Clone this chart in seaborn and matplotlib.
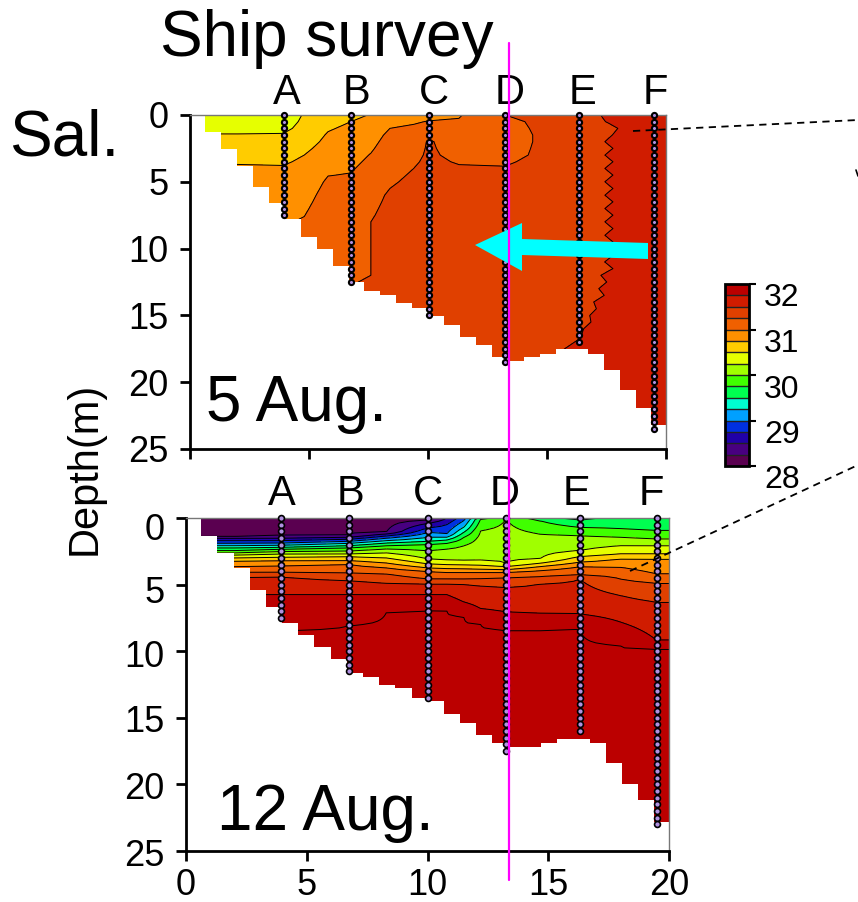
# salinity sections from the ship survey

import numpy as np
import pandas as pd
import matplotlib
matplotlib.use("Agg")
import matplotlib.pyplot as plt
from matplotlib.cm import ScalarMappable
from matplotlib.colors import ListedColormap, BoundaryNorm
from matplotlib.lines import Line2D
from matplotlib.patches import Polygon
from matplotlib.transforms import IdentityTransform, ScaledTranslation
import seaborn as sns

# ------------------------------
# 1. Data
# ------------------------------
station_names = ["A", "B", "C", "D", "E", "F"]
station_km_aug5 = [3.93, 6.76, 10.04, 13.25, 16.33, 19.48]
station_km_aug12 = [3.92, 6.75, 10.03, 13.25, 16.3, 19.5]
station_bottom_aug5 = [7.5, 12.5, 15.0, 18.5, 17.0, 23.5]
station_bottom_aug12 = [7.5, 11.5, 13.5, 17.5, 16.0, 23.0]
sample_depth = [0, 0.5, 1, 1.5, 2, 2.5, 3, 3.5, 4, 4.5, 5, 5.5, 6, 6.5, 7, 7.5, 8, 8.5, 9, 9.5,
                10, 10.5, 11, 11.5, 12, 12.5, 13, 13.5, 14, 14.5, 15, 15.5, 16, 16.5, 17, 17.5,
                18, 18.5, 19, 19.5, 20, 20.5, 21, 21.5, 22, 22.5, 23, 23.5]

salinity_levels = [28, 28.25, 28.5, 28.75, 29, 29.25, 29.5, 29.75, 30, 30.25, 30.5, 30.75,
                   31, 31.25, 31.5, 31.75, 32]
band_colors = ["#5a0050", "#480080", "#2000a8", "#0030e0", "#00a0ff", "#00ffd0", "#00ff50", "#40ff00",
               "#a0ff00", "#e6ff00", "#ffcc00", "#ff9000", "#f06000", "#e04000", "#d01c00", "#bb0000"]

# seabed steps, one depth per cell
seabed_edges = [0, 0.63, 1.3, 1.97, 2.64, 3.31, 3.98, 4.65, 5.32, 5.99, 6.66, 7.33, 8.0, 8.67, 9.34, 10.01,
                10.68, 11.35, 12.02, 12.69, 13.36, 14.03, 14.7, 15.37, 16.04, 16.71, 17.38, 18.05, 18.72,
                19.39, 20.0]
seabed_aug5 = [0, 1.25, 2.54, 3.79, 5.36, 6.56, 7.8, 9.1, 10.0, 11.27, 12.5, 13.14, 13.44, 14.04, 14.44,
               15.04, 15.69, 16.58, 17.18, 18.15, 18.45, 18.15, 17.86, 17.48, 17.48, 17.86, 19.05, 20.6,
               21.9, 23.17]
seabed_aug12 = [0, 1.35, 2.6, 3.78, 5.38, 6.65, 7.85, 8.8, 9.7, 10.6, 11.6, 11.9, 12.5, 12.8, 13.48,
                13.74, 14.7, 15.4, 16.3, 16.9, 17.2, 17.2, 16.9, 16.6, 16.6, 16.9, 18.4, 20.0, 21.2, 22.8]

# 5 Aug: salinity profiles, one row per column position
aug5_km = [0.6, 2, 3.93, 4.8, 5.8, 6.76, 7.6, 8.4, 9.4, 10.04, 11.3, 13.25, 14.4, 16.33, 19.48, 20]
aug5_depth = [0, 0.5, 1, 1.5, 2, 3, 4, 5, 6, 7, 8, 10, 12, 14, 16, 18, 20, 25]
aug5_profiles = [
    [30.30, 30.33, 30.40, 30.52, 30.58, 30.68, 30.78, 30.85, 30.90, 30.95, 31.00, 31.10, 31.15, 31.20, 31.20, 31.20, 31.20, 31.20],
    [30.30, 30.33, 30.40, 30.52, 30.58, 30.68, 30.78, 30.85, 30.90, 30.95, 31.00, 31.10, 31.15, 31.20, 31.20, 31.20, 31.20, 31.20],
    [30.35, 30.38, 30.44, 30.52, 30.58, 30.68, 30.77, 30.84, 30.90, 30.94, 30.98, 31.08, 31.12, 31.18, 31.20, 31.20, 31.20, 31.20],
    [30.52, 30.55, 30.58, 30.62, 30.66, 30.75, 30.82, 30.87, 30.92, 30.97, 31.02, 31.10, 31.15, 31.20, 31.20, 31.20, 31.20, 31.20],
    [30.60, 30.66, 30.73, 30.77, 30.80, 30.87, 30.96, 31.03, 31.08, 31.12, 31.15, 31.20, 31.22, 31.24, 31.24, 31.24, 31.24, 31.24],
    [30.70, 30.75, 30.79, 30.82, 30.85, 30.92, 30.98, 31.04, 31.08, 31.11, 31.14, 31.19, 31.23, 31.28, 31.30, 31.30, 31.30, 31.30],
    [30.76, 30.82, 30.86, 30.90, 30.94, 31.01, 31.07, 31.12, 31.17, 31.21, 31.25, 31.25, 31.25, 31.30, 31.32, 31.32, 31.32, 31.32],
    [30.80, 30.90, 31.00, 31.05, 31.08, 31.13, 31.17, 31.22, 31.28, 31.31, 31.33, 31.35, 31.37, 31.38, 31.40, 31.40, 31.40, 31.40],
    [30.90, 30.98, 31.03, 31.08, 31.15, 31.20, 31.25, 31.30, 31.33, 31.35, 31.36, 31.38, 31.39, 31.40, 31.40, 31.40, 31.40, 31.40],
    [30.93, 31.01, 31.10, 31.20, 31.27, 31.28, 31.30, 31.32, 31.34, 31.35, 31.36, 31.38, 31.39, 31.40, 31.40, 31.40, 31.40, 31.40],
    [30.98, 31.02, 31.08, 31.12, 31.15, 31.20, 31.27, 31.32, 31.34, 31.35, 31.36, 31.38, 31.39, 31.40, 31.41, 31.42, 31.42, 31.42],
    [31.25, 31.20, 31.18, 31.18, 31.18, 31.20, 31.26, 31.32, 31.34, 31.36, 31.37, 31.38, 31.39, 31.40, 31.42, 31.44, 31.44, 31.44],
    [31.30, 31.27, 31.26, 31.25, 31.25, 31.26, 31.30, 31.35, 31.36, 31.37, 31.38, 31.39, 31.40, 31.41, 31.43, 31.47, 31.47, 31.47],
    [31.42, 31.42, 31.42, 31.42, 31.42, 31.42, 31.42, 31.42, 31.42, 31.42, 31.42, 31.42, 31.43, 31.45, 31.48, 31.53, 31.53, 31.53],
    [31.62, 31.62, 31.62, 31.62, 31.62, 31.62, 31.62, 31.62, 31.62, 31.62, 31.62, 31.62, 31.62, 31.62, 31.62, 31.62, 31.62, 31.62],
    [31.62, 31.62, 31.62, 31.62, 31.62, 31.62, 31.62, 31.62, 31.62, 31.62, 31.62, 31.62, 31.62, 31.62, 31.62, 31.62, 31.62, 31.62],
]
# the wavy 31.5 line between E and F, one value every 0.5 m
wavy_km = 17.6
wavy_profile = [31.53, 31.51, 31.47, 31.49, 31.512, 31.488, 31.512, 31.488, 31.512, 31.488, 31.512, 31.488,
                31.512, 31.488, 31.512, 31.488, 31.512, 31.488, 31.512, 31.488, 31.512, 31.488, 31.512, 31.488,
                31.525, 31.505, 31.53, 31.51, 31.55, 31.53, 31.56, 31.54, 31.60, 31.58, 31.60, 31.60,
                31.60, 31.60, 31.60, 31.60, 31.60, 31.60, 31.60, 31.60, 31.60, 31.60, 31.60, 31.60,
                31.60, 31.60, 31.60]

# 12 Aug: depth (m) of each isohaline at each column, nan where the level is not in the column
aug12_km = [0.6, 2, 3.92, 6.75, 8.3, 10.03, 10.8, 11.5, 12.2, 13.25, 14.65, 16.3, 18, 19.5, 20]
aug12_surface = [28.1, 28.1, 28.1, 28.1, 28.1, 28.15, 28.5, 28.9, 29.6, 29.95, 29.6, 29.4, 29.6, 29.55, 29.55]
nan = float("nan")
iso_levels = [28.25, 28.5, 28.75, 29, 29.25, 29.5, 29.75, 30, 30.25, 30.5, 30.75, 31, 31.25, 31.5, 31.75, 32]
aug12_iso = [
    [1.40, 1.52, 1.70, 1.90, 2.08, 2.25, 2.45, 2.62, 2.78, 3.00, 3.25, 3.65, 4.08, 4.45, 5.75, 8.58],
    [1.40, 1.52, 1.70, 1.90, 2.08, 2.25, 2.45, 2.62, 2.78, 3.00, 3.25, 3.65, 4.08, 4.45, 5.75, 8.58],
    [1.35, 1.52, 1.70, 1.88, 2.05, 2.20, 2.35, 2.52, 2.70, 2.95, 3.20, 3.60, 4.08, 4.40, 5.75, 8.45],
    [1.28, 1.45, 1.60, 1.75, 1.90, 2.08, 2.25, 2.48, 2.70, 2.90, 3.20, 3.50, 4.12, 4.70, 5.75, 8.08],
    [1.05, 1.20, 1.35, 1.52, 1.70, 1.88, 2.08, 2.32, 2.62, 3.00, 3.38, 3.75, 4.20, 4.90, 5.75, 7.08],
    [0.15, 0.40, 0.75, 1.08, 1.45, 1.75, 2.00, 2.45, 3.08, 3.45, 3.75, 4.02, 4.58, 4.95, 5.75, 6.90],
    [nan, 0.02, 0.50, 1.20, 1.45, 1.65, 1.90, 2.32, 3.15, 3.50, 3.80, 4.08, 4.58, 4.95, 5.75, 6.95],
    [nan, nan, nan, 0.20, 0.70, 1.08, 1.45, 2.08, 3.20, 3.52, 3.82, 4.08, 4.58, 5.00, 6.30, 7.40],
    [nan, nan, nan, nan, nan, nan, 0.08, 0.95, 3.20, 3.55, 3.85, 4.08, 4.55, 5.10, 6.80, 8.00],
    [nan, nan, nan, nan, nan, nan, nan, 0.05, 3.40, 3.65, 3.88, 4.08, 4.50, 5.20, 7.05, 8.40],
    [nan, nan, nan, nan, nan, nan, 0.20, 1.20, 3.08, 3.40, 3.65, 3.95, 4.40, 4.95, 7.15, 8.40],
    [nan, nan, nan, nan, nan, 0.15, 0.70, 1.32, 2.45, 2.90, 3.32, 3.65, 4.25, 4.58, 7.20, 8.32],
    [nan, nan, nan, nan, nan, nan, 0.82, 1.45, 2.08, 2.70, 3.08, 3.70, 4.58, 5.82, 7.82, 9.58],
    [nan, nan, nan, nan, nan, nan, 0.95, 1.58, 2.08, 2.70, 3.08, 4.20, 4.90, 6.32, 9.20, 9.82],
    [nan, nan, nan, nan, nan, nan, 0.95, 1.58, 2.08, 2.70, 3.08, 4.20, 4.90, 6.32, 9.20, 9.82],
]

# ------------------------------
# 2. Build the fields
# ------------------------------
depth_fine = np.linspace(0, 25, 51)
aug5_km_all = aug5_km[:14] + [wavy_km] + aug5_km[14:]
aug5_columns = [np.interp(depth_fine, aug5_depth, p) for p in aug5_profiles]
aug5_columns.insert(14, np.array(wavy_profile))
aug5_field = np.array(aug5_columns).T

depth_finer = np.linspace(0, 25, 201)
aug12_columns = []
for surf, iso in zip(aug12_surface, aug12_iso):
    d = [0.0] + [v for v in iso if v == v] + [25.0]
    s = [surf] + [lev for lev, v in zip(iso_levels, iso) if v == v] + [32.3]
    aug12_columns.append(np.interp(depth_finer, d, s))
aug12_field = np.array(aug12_columns).T

cmap = ListedColormap(band_colors)
norm = BoundaryNorm(salinity_levels, cmap.N)

# ------------------------------
# 3. Figure
# ------------------------------
sns.set_style("ticks")
plt.rcParams["font.family"] = ["Liberation Sans", "DejaVu Sans"]
plt.rcParams["text.color"] = "black"
plt.rcParams["xtick.labelcolor"] = "black"
plt.rcParams["ytick.labelcolor"] = "black"

W, H = 858, 902
fig = plt.figure(figsize=(W / 100, H / 100), dpi=100)


def px_axes(left, top, right, bottom):
    return fig.add_axes([left / W, 1 - bottom / H, (right - left) / W, (bottom - top) / H])


def shift_labels(labels, offsets):
    # the original labels sit a little under their ticks
    for lab, dy in zip(labels, offsets):
        lab.set_transform(lab.get_transform() + ScaledTranslation(0, -dy * 0.72 / 72, fig.dpi_scale_trans))


def section(ax, km, depth, field, seabed, stations, bottoms, dot_size, dot_lw, show_x):
    ax.contourf(km, depth, field, levels=salinity_levels, cmap=cmap, norm=norm, extend="max", zorder=1)
    ax.contour(km, depth, field, levels=salinity_levels[1:], colors="black", linewidths=0.7, zorder=1.5)
    ax.fill_between(seabed_edges, list(seabed) + [seabed[-1]], 25, step="post", color="white", lw=0, zorder=2)

    rows = []
    for name, x, b in zip(station_names, stations, bottoms):
        for d in sample_depth:
            if d <= b:
                rows.append({"station": name, "km": x, "depth": d})
    samples = pd.DataFrame(rows)
    sns.scatterplot(data=samples, x="km", y="depth", ax=ax, s=dot_size, color="#b090e0", edgecolor="black",
                    linewidth=dot_lw, zorder=3, clip_on=False, legend=False)

    ax.set_xlim(0, 20)
    ax.set_ylim(25, 0)
    ax.set_xticks([0, 5, 10, 15, 20])
    ax.set_yticks([0, 5, 10, 15, 20, 25])
    ax.set_xlabel("")
    ax.set_ylabel("")
    ax.tick_params(axis="both", length=7.5, width=2, labelsize=26, color="black")
    ax.tick_params(axis="y", pad=8)
    ax.tick_params(axis="x", pad=4.5)
    if not show_x:
        ax.tick_params(axis="x", labelbottom=False)
    for side in ["left", "bottom"]:
        ax.spines[side].set_linewidth(2)
        ax.spines[side].set_color("black")
    for side in ["top", "right"]:
        ax.spines[side].set_visible(True)
        ax.spines[side].set_linewidth(1)
        ax.spines[side].set_color("#777777")


ax_top = px_axes(190, 115, 666, 449)
section(ax_top, aug5_km_all, depth_fine, aug5_field, seabed_aug5, station_km_aug5, station_bottom_aug5, 14, 1.5, False)
ax_bot = px_axes(186, 518, 669, 851)
section(ax_bot, aug12_km, depth_finer, aug12_field, seabed_aug12, station_km_aug12, station_bottom_aug12, 18, 1.2, True)
shift_labels(ax_bot.get_yticklabels(), [9, 5, 2, 1, 1, 2])


def label(x, y, text, size, **kw):
    fig.text(x / W, 1 - y / H, text, fontsize=size, ha="center", va="center", **kw)


label(327, 39, "Ship survey", 46)
label(64, 139, "Sal.", 46)
label(297, 404, "5 Aug.", 46)
label(325, 813, "12 Aug.", 46)
label(85, 468, "Depth(m)", 30, rotation=90)

for name, x in zip(station_names, [287, 356, 434, 510, 583, 655]):
    label(x, 93, name, 30)
for name, x in zip(station_names, [282, 350, 428, 505, 577, 651]):
    label(x, 494, name, 30)

# colour bar
cax = px_axes(725, 284, 749, 466)
cb = fig.colorbar(ScalarMappable(norm=norm, cmap=cmap), cax=cax, drawedges=True, spacing="proportional")
cb.set_ticks([28, 29, 30, 31, 32])
cb.ax.tick_params(length=5, width=1.5, labelsize=23, pad=6, color="black")
cb.ax.minorticks_off()
cb.outline.set_linewidth(2)
cb.outline.set_edgecolor("black")
cb.dividers.set_linewidth(1)
cb.dividers.set_color("#222222")
shift_labels(cb.ax.get_yticklabels(), [11, 11, 11, 11, 11])

# overlays in pixels
pixel = IdentityTransform()


def over(xy):
    return [(x, H - y) for x, y in xy]


fig.add_artist(Polygon(over([(648, 243), (522, 239), (522, 223), (475, 245), (522, 271), (522, 255), (648, 259)]),
                       closed=True, facecolor="#00ffff", edgecolor="none", transform=pixel, zorder=6))
for p0, p1 in [((633, 131), (858, 120)), ((630, 571), (858, 465))]:
    fig.add_artist(Line2D(*zip(*over([p0, p1])), color="black", lw=1.3, ls=(0, (4, 3)), transform=pixel, zorder=6))
fig.add_artist(Line2D(*zip(*over([(856, 170), (858, 176)])), color="black", lw=1.2, transform=pixel, zorder=6))
fig.add_artist(Line2D(*zip(*over([(509, 43), (509, 880)])), color="#ff00ff", lw=1.6, transform=pixel, zorder=7))

fig.savefig("out.png", dpi=100)
